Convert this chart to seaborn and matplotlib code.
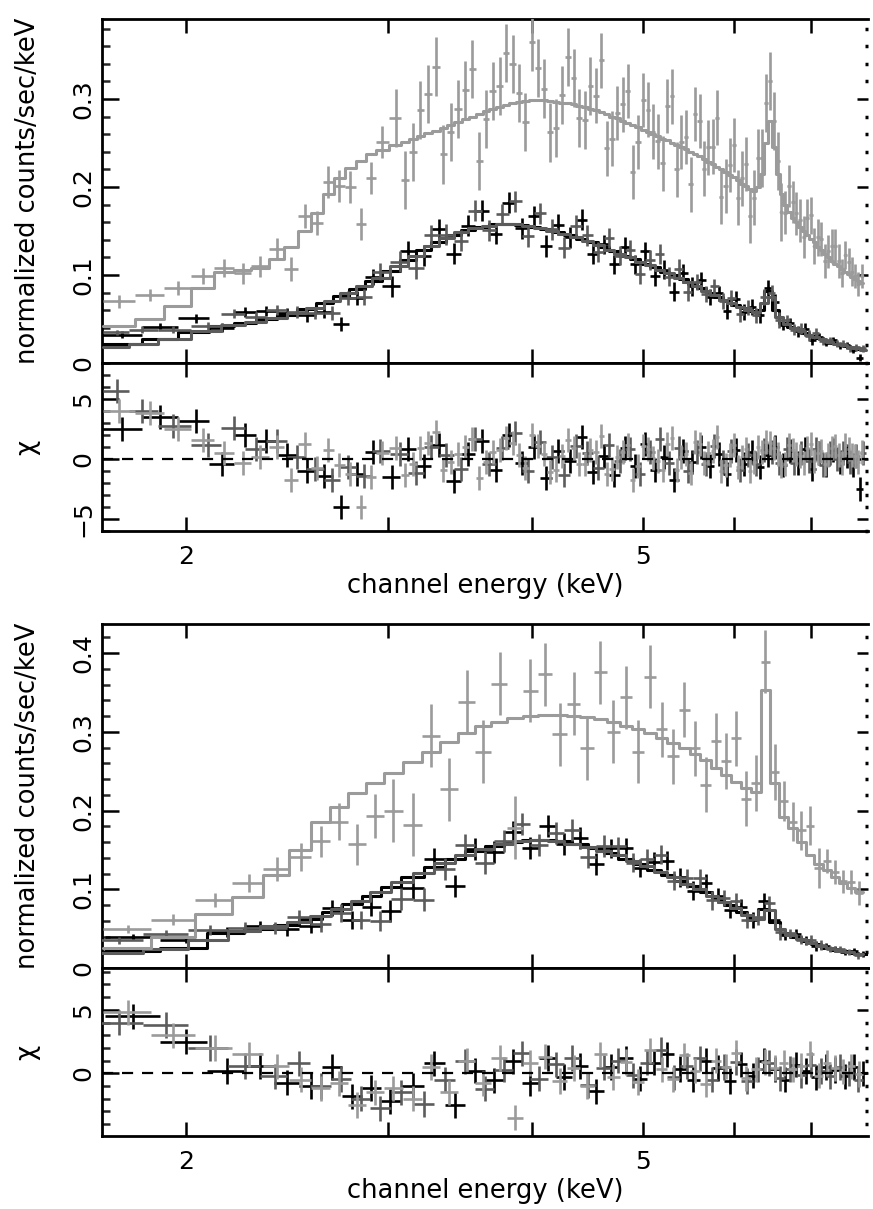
import numpy as np
import pandas as pd
import matplotlib
matplotlib.use("Agg")
import matplotlib.pyplot as plt
import seaborn as sns
from matplotlib.ticker import MultipleLocator, FixedLocator, NullLocator, FixedFormatter, FuncFormatter

sns.set_theme(style="ticks")
plt.rcParams['font.family'] = ['DejaVu Sans']

# ---------------- upper figure: light gray spectrum ----------------
e_a_lg = [1.75, 1.86, 1.97, 2.07, 2.16, 2.24, 2.32, 2.40, 2.47, 2.54, 2.60, 2.66, 2.72, 2.78, 2.84, 2.90, 2.96,
          3.05, 3.10, 3.15, 3.20, 3.25, 3.30, 3.35, 3.40, 3.45, 3.50, 3.55, 3.60, 3.65, 3.70, 3.75, 3.80, 3.85, 3.90, 3.95,
          4.00, 4.05, 4.10, 4.15, 4.20, 4.25, 4.30, 4.35, 4.40, 4.45, 4.50, 4.55, 4.60, 4.65, 4.70, 4.75, 4.80, 4.85, 4.90, 4.95,
          5.00, 5.05, 5.10, 5.15, 5.20, 5.25, 5.30, 5.35, 5.40, 5.45, 5.50, 5.55, 5.60, 5.65, 5.70, 5.75, 5.80, 5.85, 5.90, 5.95,
          6.00, 6.05, 6.10, 6.15, 6.20, 6.25, 6.30, 6.35, 6.40, 6.45, 6.50, 6.55, 6.60, 6.65, 6.70, 6.75, 6.80, 6.85, 6.90, 6.95,
          7.00, 7.05, 7.10, 7.15, 7.20, 7.25, 7.30, 7.35, 7.40, 7.45, 7.50, 7.55, 7.60, 7.65, 7.70, 7.75]
y_a_lg = [0.070, 0.077, 0.085, 0.099, 0.108, 0.102, 0.110, 0.130, 0.107, 0.167, 0.159, 0.206, 0.201, 0.200, 0.158, 0.210, 0.251,
          0.278, 0.208, 0.240, 0.288, 0.306, 0.337, 0.237, 0.263, 0.289, 0.310, 0.334, 0.230, 0.277, 0.309, 0.315, 0.352, 0.340, 0.307, 0.274,
          0.365, 0.335, 0.312, 0.262, 0.267, 0.305, 0.348, 0.324, 0.279, 0.276, 0.315, 0.304, 0.344, 0.244, 0.255, 0.284, 0.294, 0.309, 0.217, 0.251,
          0.299, 0.288, 0.263, 0.252, 0.227, 0.292, 0.303, 0.220, 0.251, 0.257, 0.203, 0.283, 0.275, 0.221, 0.245, 0.246, 0.279, 0.189, 0.201, 0.225,
          0.248, 0.188, 0.210, 0.226, 0.167, 0.188, 0.233, 0.233, 0.296, 0.320, 0.275, 0.230, 0.172, 0.171, 0.201, 0.183, 0.170, 0.162, 0.143, 0.165,
          0.168, 0.133, 0.143, 0.141, 0.116, 0.127, 0.133, 0.133, 0.116, 0.102, 0.123, 0.115, 0.104, 0.099, 0.090, 0.099]
s_a_lg = [0.007, 0.007, 0.008, 0.009, 0.010, 0.012, 0.012, 0.012, 0.014, 0.014, 0.014, 0.018, 0.018, 0.018, 0.018, 0.018, 0.018,
          0.033, 0.033, 0.033, 0.033, 0.033, 0.033, 0.033, 0.033, 0.033, 0.033, 0.033, 0.033, 0.033, 0.033, 0.033, 0.033, 0.033, 0.033, 0.033,
          0.033, 0.033, 0.033, 0.033, 0.033, 0.033, 0.033, 0.033, 0.033, 0.033, 0.033, 0.031, 0.031, 0.031, 0.031, 0.031, 0.031, 0.031, 0.031, 0.031,
          0.031, 0.031, 0.031, 0.031, 0.031, 0.031, 0.031, 0.031, 0.031, 0.031, 0.031, 0.031, 0.031, 0.031, 0.031, 0.031, 0.031, 0.031, 0.031, 0.031,
          0.031, 0.031, 0.031, 0.031, 0.031, 0.031, 0.033, 0.033, 0.033, 0.033, 0.033, 0.033, 0.033, 0.024, 0.024, 0.024, 0.024, 0.024, 0.024, 0.021,
          0.021, 0.021, 0.021, 0.019, 0.019, 0.019, 0.019, 0.019, 0.019, 0.016, 0.016, 0.016, 0.016, 0.014, 0.014, 0.014]
m_a_lg = [0.042, 0.050, 0.065, 0.085, 0.103, 0.106, 0.108, 0.118, 0.132, 0.150, 0.170, 0.192, 0.210, 0.222, 0.230, 0.237, 0.242,
          0.248, 0.251, 0.255, 0.258, 0.261, 0.264, 0.267, 0.270, 0.274, 0.277, 0.280, 0.283, 0.286, 0.289, 0.291, 0.293, 0.295, 0.297, 0.298,
          0.299, 0.299, 0.299, 0.298, 0.297, 0.296, 0.295, 0.294, 0.292, 0.291, 0.289, 0.287, 0.285, 0.283, 0.280, 0.278, 0.275, 0.273, 0.270, 0.268,
          0.265, 0.263, 0.260, 0.258, 0.255, 0.253, 0.250, 0.248, 0.245, 0.243, 0.240, 0.238, 0.235, 0.232, 0.229, 0.226, 0.223, 0.220, 0.217, 0.214,
          0.211, 0.208, 0.204, 0.201, 0.198, 0.196, 0.200, 0.215, 0.250, 0.275, 0.245, 0.215, 0.192, 0.180, 0.172, 0.165, 0.160, 0.155, 0.150, 0.145,
          0.141, 0.137, 0.132, 0.128, 0.124, 0.120, 0.116, 0.113, 0.110, 0.107, 0.104, 0.101, 0.098, 0.096, 0.093, 0.091]

# ---------------- upper figure: black spectrum ----------------
e_a_bk = [1.76, 1.90, 2.04, 2.15, 2.25, 2.35, 2.45, 2.55, 2.64, 2.73, 2.82, 2.91,
          3.02, 3.12, 3.22, 3.32, 3.42, 3.52, 3.62, 3.72, 3.82, 3.92, 4.02, 4.12, 4.22, 4.32, 4.42, 4.52, 4.62,
          4.72, 4.82, 4.92, 5.02, 5.12, 5.22, 5.32, 5.42, 5.52, 5.62, 5.72, 5.82, 5.92, 6.02, 6.12, 6.22, 6.32,
          6.42, 6.52, 6.62, 6.72, 6.82, 6.92, 7.02, 7.12, 7.22, 7.32, 7.42, 7.52, 7.62, 7.72]
y_a_bk = [0.032, 0.041, 0.051, 0.040, 0.058, 0.059, 0.057, 0.054, 0.058, 0.044, 0.074, 0.098,
          0.087, 0.127, 0.122, 0.152, 0.124, 0.156, 0.173, 0.147, 0.182, 0.153,
          0.167, 0.133, 0.157, 0.143, 0.163, 0.124, 0.135, 0.112, 0.132, 0.112,
          0.127, 0.099, 0.106, 0.081, 0.102, 0.087, 0.094, 0.075, 0.079, 0.059,
          0.073, 0.058, 0.064, 0.054, 0.085, 0.069, 0.043, 0.045, 0.036, 0.039,
          0.026, 0.030, 0.023, 0.026, 0.020, 0.020, 0.015, 0.006]
s_a_bk = [0.004, 0.004, 0.005, 0.005, 0.006, 0.006, 0.006, 0.007, 0.007, 0.008, 0.008, 0.009,
          0.012, 0.012, 0.012, 0.012, 0.012, 0.012, 0.012, 0.012, 0.012, 0.012,
          0.012, 0.012, 0.012, 0.012, 0.012, 0.012, 0.011, 0.011, 0.011, 0.011,
          0.011, 0.011, 0.011, 0.011, 0.011, 0.011, 0.009, 0.009, 0.009, 0.009,
          0.009, 0.009, 0.009, 0.009, 0.009, 0.009, 0.006, 0.006, 0.006, 0.006,
          0.006, 0.004, 0.004, 0.004, 0.004, 0.004, 0.004, 0.004]
m_a_bk = [0.022, 0.027, 0.035, 0.042, 0.046, 0.050, 0.055, 0.061, 0.068, 0.076, 0.084, 0.093,
          0.105, 0.117, 0.129, 0.138, 0.146, 0.151, 0.155, 0.158, 0.158, 0.157,
          0.155, 0.152, 0.149, 0.145, 0.141, 0.137, 0.132, 0.127, 0.122, 0.118,
          0.113, 0.109, 0.104, 0.100, 0.095, 0.090, 0.085, 0.080, 0.075, 0.070,
          0.066, 0.062, 0.059, 0.060, 0.082, 0.060, 0.046, 0.041, 0.038, 0.034,
          0.031, 0.028, 0.025, 0.023, 0.021, 0.019, 0.017, 0.016]

# ---------------- upper figure: dark gray spectrum ----------------
e_a_dg = [1.74, 1.83, 1.95, 2.09, 2.20, 2.30, 2.40, 2.50, 2.59, 2.68, 2.77, 2.86, 2.95,
          3.07, 3.17, 3.27, 3.37, 3.47, 3.57, 3.67, 3.77, 3.87, 3.97, 4.07, 4.17, 4.27, 4.37, 4.47, 4.57,
          4.67, 4.77, 4.87, 4.97, 5.07, 5.17, 5.27, 5.37, 5.47, 5.57, 5.67, 5.77, 5.87, 5.97, 6.07, 6.17,
          6.27, 6.37, 6.47, 6.57, 6.67, 6.77, 6.87, 6.97, 7.07, 7.17, 7.27, 7.37, 7.47, 7.57, 7.67, 7.77]
y_a_dg = [0.035, 0.038, 0.038, 0.042, 0.056, 0.052, 0.060, 0.058, 0.057, 0.057, 0.074, 0.075, 0.104,
          0.115, 0.108, 0.145, 0.146, 0.139, 0.173, 0.151, 0.169, 0.184, 0.144,
          0.170, 0.152, 0.131, 0.156, 0.145, 0.126, 0.142, 0.122, 0.129, 0.101,
          0.117, 0.124, 0.098, 0.107, 0.081, 0.092, 0.078, 0.087, 0.070, 0.074,
          0.056, 0.063, 0.054, 0.075, 0.080, 0.049, 0.049, 0.038, 0.039, 0.031,
          0.034, 0.025, 0.026, 0.022, 0.022, 0.017, 0.018, 0.017]
s_a_dg = [0.003, 0.004, 0.004, 0.005, 0.005, 0.006, 0.006, 0.007, 0.007, 0.008, 0.008, 0.009, 0.010,
          0.012, 0.012, 0.012, 0.012, 0.012, 0.012, 0.012, 0.012, 0.012, 0.012,
          0.012, 0.012, 0.012, 0.012, 0.012, 0.011, 0.011, 0.011, 0.011, 0.011,
          0.011, 0.011, 0.011, 0.011, 0.011, 0.009, 0.009, 0.009, 0.009, 0.009,
          0.009, 0.009, 0.009, 0.009, 0.009, 0.009, 0.006, 0.006, 0.006, 0.006,
          0.006, 0.004, 0.004, 0.004, 0.004, 0.004, 0.004, 0.004]
m_a_dg = [0.018, 0.022, 0.027, 0.036, 0.043, 0.047, 0.051, 0.057, 0.063, 0.071, 0.079, 0.088, 0.097,
          0.110, 0.122, 0.133, 0.142, 0.149, 0.153, 0.156, 0.158, 0.158, 0.156,
          0.153, 0.150, 0.147, 0.143, 0.139, 0.134, 0.129, 0.124, 0.120, 0.115,
          0.111, 0.106, 0.102, 0.097, 0.092, 0.087, 0.082, 0.077, 0.072, 0.068,
          0.064, 0.060, 0.058, 0.068, 0.075, 0.052, 0.044, 0.040, 0.036, 0.032,
          0.029, 0.027, 0.024, 0.022, 0.020, 0.018, 0.017, 0.015]

# ---------------- lower figure: light gray spectrum ----------------
e_b_lg = [1.78, 1.95, 2.12, 2.27, 2.40, 2.52, 2.62, 2.72, 2.82, 2.92,
          3.03, 3.15, 3.27, 3.39, 3.51, 3.63, 3.75, 3.87, 3.99, 4.11, 4.23, 4.35, 4.47, 4.59, 4.71, 4.83,
          4.95, 5.07, 5.19, 5.31, 5.43, 5.55, 5.67, 5.79, 5.91, 6.03, 6.15, 6.27, 6.39, 6.51, 6.63, 6.75,
          6.87, 6.99, 7.11, 7.23, 7.35, 7.47, 7.59, 7.71]
y_b_lg = [0.049, 0.061, 0.086, 0.108, 0.126, 0.141, 0.161, 0.186, 0.157, 0.193,
          0.200, 0.182, 0.295, 0.227, 0.338, 0.275, 0.361, 0.178, 0.352, 0.373,
          0.297, 0.336, 0.279, 0.376, 0.300, 0.344, 0.275, 0.370, 0.303, 0.269,
          0.328, 0.279, 0.233, 0.289, 0.263, 0.292, 0.215, 0.235, 0.389, 0.249,
          0.212, 0.186, 0.175, 0.181, 0.127, 0.136, 0.122, 0.110, 0.109, 0.095]
s_b_lg = [0.005, 0.007, 0.009, 0.012, 0.015, 0.018, 0.020, 0.024, 0.026, 0.028,
          0.040, 0.040, 0.040, 0.040, 0.040, 0.040, 0.040, 0.040, 0.040, 0.040,
          0.040, 0.040, 0.040, 0.040, 0.040, 0.040, 0.040, 0.040, 0.035, 0.035,
          0.035, 0.035, 0.035, 0.035, 0.035, 0.035, 0.035, 0.035, 0.040, 0.035,
          0.025, 0.025, 0.025, 0.025, 0.025, 0.015, 0.015, 0.015, 0.015, 0.015]
m_b_lg = [0.025, 0.040, 0.068, 0.090, 0.118, 0.150, 0.185, 0.205, 0.222, 0.235,
          0.248, 0.262, 0.275, 0.287, 0.298, 0.307, 0.313, 0.318, 0.320, 0.321,
          0.321, 0.320, 0.319, 0.316, 0.312, 0.308, 0.303, 0.298, 0.292, 0.286,
          0.279, 0.272, 0.264, 0.254, 0.245, 0.236, 0.229, 0.224, 0.353, 0.235,
          0.192, 0.178, 0.160, 0.143, 0.132, 0.124, 0.116, 0.108, 0.101, 0.096]

# ---------------- lower figure: black spectrum ----------------
e_b_bk = [1.80, 2.00, 2.17, 2.32, 2.45, 2.57, 2.68, 2.79, 2.90,
          3.01, 3.15, 3.29, 3.43, 3.57, 3.71, 3.85, 3.99, 4.13, 4.27, 4.41, 4.55, 4.69, 4.83, 4.97, 5.11,
          5.25, 5.39, 5.53, 5.67, 5.81, 5.95, 6.09, 6.23, 6.37, 6.51, 6.65, 6.79, 6.93, 7.07, 7.21, 7.35,
          7.49, 7.63, 7.77]
y_b_bk = [0.039, 0.036, 0.046, 0.053, 0.049, 0.053, 0.076, 0.061, 0.078,
          0.072, 0.102, 0.139, 0.104, 0.151, 0.147, 0.173, 0.152, 0.180, 0.157,
          0.165, 0.132, 0.152, 0.153, 0.127, 0.135, 0.136, 0.115, 0.098, 0.108,
          0.092, 0.074, 0.078, 0.061, 0.085, 0.061, 0.042, 0.043, 0.035, 0.028,
          0.028, 0.024, 0.020, 0.021, 0.018]
s_b_bk = [0.004, 0.004, 0.006, 0.007, 0.008, 0.009, 0.010, 0.011, 0.012,
          0.014, 0.014, 0.014, 0.014, 0.014, 0.014, 0.014, 0.014, 0.014, 0.014,
          0.014, 0.014, 0.012, 0.012, 0.012, 0.012, 0.012, 0.012, 0.012, 0.012,
          0.010, 0.010, 0.010, 0.010, 0.010, 0.010, 0.006, 0.006, 0.006, 0.006,
          0.004, 0.004, 0.004, 0.004, 0.004]
m_b_bk = [0.021, 0.026, 0.045, 0.049, 0.055, 0.062, 0.071, 0.081, 0.092,
          0.103, 0.116, 0.128, 0.139, 0.148, 0.155, 0.160, 0.163, 0.163, 0.161,
          0.157, 0.152, 0.146, 0.139, 0.132, 0.125, 0.118, 0.111, 0.104, 0.096,
          0.088, 0.080, 0.071, 0.063, 0.075, 0.058, 0.045, 0.039, 0.034, 0.030,
          0.026, 0.023, 0.021, 0.019, 0.018]

# ---------------- lower figure: dark gray spectrum ----------------
e_b_dg = [1.75, 1.92, 2.10, 2.25, 2.39, 2.51, 2.62, 2.73, 2.84, 2.95,
          3.08, 3.22, 3.36, 3.50, 3.64, 3.78, 3.92, 4.06, 4.20, 4.34, 4.48, 4.62, 4.76, 4.90, 5.04, 5.18,
          5.32, 5.46, 5.60, 5.74, 5.88, 6.02, 6.16, 6.30, 6.44, 6.58, 6.72, 6.86, 7.00, 7.14, 7.28, 7.42,
          7.56, 7.70]
y_b_dg = [0.035, 0.043, 0.048, 0.051, 0.051, 0.065, 0.056, 0.070, 0.061, 0.060,
          0.088, 0.087, 0.126, 0.156, 0.134, 0.161, 0.183, 0.156, 0.171, 0.175, 0.141, 0.155,
          0.155, 0.134, 0.139, 0.144, 0.111, 0.114, 0.114, 0.086,
          0.089, 0.085, 0.061, 0.065, 0.082, 0.046,
          0.044, 0.036, 0.036, 0.029,
          0.024, 0.024, 0.020, 0.016]
s_b_dg = [0.004, 0.005, 0.006, 0.007, 0.008, 0.009, 0.010, 0.011, 0.012, 0.013,
          0.014, 0.014, 0.014, 0.014, 0.014, 0.014, 0.014, 0.014, 0.014, 0.014, 0.014, 0.014,
          0.012, 0.012, 0.012, 0.012, 0.012, 0.012, 0.012, 0.012,
          0.010, 0.010, 0.010, 0.010, 0.010, 0.010,
          0.006, 0.006, 0.006, 0.006,
          0.004, 0.004, 0.004, 0.004]
m_b_dg = [0.019, 0.024, 0.036, 0.047, 0.053, 0.058, 0.066, 0.075, 0.085, 0.096,
          0.109, 0.121, 0.133, 0.143, 0.151, 0.157, 0.161, 0.162, 0.161, 0.158, 0.154, 0.149,
          0.143, 0.136, 0.129, 0.122, 0.115, 0.107, 0.100, 0.092,
          0.084, 0.076, 0.067, 0.062, 0.074, 0.050,
          0.042, 0.037, 0.032, 0.028,
          0.025, 0.022, 0.020, 0.018]

x_ticks = [2, 3, 4, 5, 6, 7]
x_tick_labels = ['2', '', '', '5', '', '']
x_range = (1.69, 7.85)

C_LG = '#9b9b9b'
C_DG = '#5c5c5c'
C_BK = '#000000'

W, H = 873, 1209
fig = plt.figure(figsize=(W / 100, H / 100), dpi=100)
fig.patch.set_facecolor('white')


def px_axes(left, right, top, bottom):
    return fig.add_axes([left / W, 1 - bottom / H, (right - left) / W, (bottom - top) / H])


def bin_edges(c):
    c = np.asarray(c, float)
    mid = (c[1:] + c[:-1]) / 2
    lo = np.concatenate([[c[0] - (c[1] - c[0]) / 2], mid])
    hi = np.concatenate([mid, [c[-1] + (c[-1] - c[-2]) / 2]])
    return lo, hi


def draw_series(ax_m, ax_r, e, y, s, m, color, z):
    e = np.asarray(e, float); y = np.asarray(y, float)
    s = np.asarray(s, float); m = np.asarray(m, float)
    lo, hi = bin_edges(e)
    ax_m.errorbar(e, y, xerr=[e - lo, hi - e], yerr=s, fmt='none', ecolor=color,
                  elinewidth=1.9, capsize=0, zorder=z)
    sns.scatterplot(x=e, y=y, ax=ax_m, color=color, s=7, linewidth=0, zorder=z + 0.1)
    xs = np.column_stack([lo, hi]).ravel()
    ys = np.repeat(m, 2)
    step = pd.DataFrame({'E': xs, 'model': ys})
    sns.lineplot(data=step, x='E', y='model', ax=ax_m, sort=False, estimator=None,
                 color=color, lw=2.2, zorder=z + 0.2)
    chi = (y - m) / s
    ax_r.errorbar(e, chi, xerr=[e - lo, hi - e], yerr=np.ones_like(chi), fmt='none',
                  ecolor=color, elinewidth=1.9, capsize=0, zorder=z)


num_fmt = FuncFormatter(lambda v, p: f'{v:g}'.replace('-', '\u2212'))


def style_axes(ax, ylim, major, minor, yticks=None, xlabels=False):
    ax.set_xscale('log')
    ax.set_xlim(*x_range)
    ax.set_ylim(*ylim)
    ax.set_facecolor('white')
    ax.xaxis.set_major_locator(FixedLocator(x_ticks))
    ax.xaxis.set_minor_locator(NullLocator())
    if xlabels:
        ax.xaxis.set_major_formatter(FixedFormatter(x_tick_labels))
    else:
        ax.xaxis.set_major_formatter(FixedFormatter([''] * len(x_ticks)))
    if yticks is not None:
        ax.yaxis.set_major_locator(FixedLocator(yticks))
    else:
        ax.yaxis.set_major_locator(MultipleLocator(major))
    ax.yaxis.set_minor_locator(MultipleLocator(minor))
    ax.yaxis.set_major_formatter(num_fmt)
    for side in ['left', 'top', 'bottom']:
        ax.spines[side].set_linewidth(2.0)
        ax.spines[side].set_color('black')
    ax.spines['right'].set_visible(False)
    ax.tick_params(axis='x', which='major', direction='in', length=10, width=1.8,
                   top=True, bottom=True, labelsize=18, pad=10, colors='black')
    ax.tick_params(axis='y', which='major', direction='in', length=12, width=1.8,
                   left=True, right=False, labelsize=18, pad=5, labelrotation=90, colors='black')
    ax.tick_params(axis='y', which='minor', direction='in', length=6, width=1.8,
                   left=True, right=False)
    for lbl in ax.get_yticklabels():
        lbl.set_va('center')
    sec = ax.secondary_yaxis('right')
    for sp in sec.spines.values():
        sp.set_visible(False)
    if yticks is not None:
        sec.yaxis.set_major_locator(FixedLocator(yticks))
    else:
        sec.yaxis.set_major_locator(MultipleLocator(major))
    sec.yaxis.set_minor_locator(MultipleLocator(minor))
    sec.tick_params(axis='y', which='major', direction='in', length=8, width=1.8,
                    labelright=False, colors='black')
    sec.tick_params(axis='y', which='minor', direction='in', length=2.5, width=2.5,
                    colors='black')


panels = [
    dict(top=19, mid=363, bot=531, ylim_m=(0, 0.391), ylim_r=(-6.0, 8.0), yt_r=[-5, 0, 5],
         series=[(e_a_bk, y_a_bk, s_a_bk, m_a_bk, C_BK, 3),
                 (e_a_dg, y_a_dg, s_a_dg, m_a_dg, C_DG, 4),
                 (e_a_lg, y_a_lg, s_a_lg, m_a_lg, C_LG, 5)]),
    dict(top=624, mid=968, bot=1136, ylim_m=(0, 0.437), ylim_r=(-4.95, 8.3), yt_r=[0, 5],
         series=[(e_b_bk, y_b_bk, s_b_bk, m_b_bk, C_BK, 3),
                 (e_b_dg, y_b_dg, s_b_dg, m_b_dg, C_DG, 4),
                 (e_b_lg, y_b_lg, s_b_lg, m_b_lg, C_LG, 5)]),
]

for p in panels:
    ax_m = px_axes(102, 868, p['top'], p['mid'])
    ax_r = px_axes(102, 868, p['mid'], p['bot'])
    for (e, y, s, m, col, z) in p['series']:
        draw_series(ax_m, ax_r, e, y, s, m, col, z)
    ax_r.axhline(0, color='black', lw=1.6, ls=(0, (5, 4)), zorder=10)
    style_axes(ax_m, p['ylim_m'], 0.1, 0.02)
    style_axes(ax_r, p['ylim_r'], 5, 1, yticks=p['yt_r'], xlabels=True)
    ax_m.set_xlabel('')
    ax_m.set_ylabel('normalized counts/sec/keV', fontsize=18.5, color='black')
    ax_r.set_ylabel('χ', fontsize=19, color='black', rotation=90)
    ax_m.yaxis.set_label_coords(-0.080, 0.5)
    ax_r.yaxis.set_label_coords(-0.080, 0.5)
    ax_r.set_xlabel('channel energy (keV)', fontsize=18.5, color='black', labelpad=3)

fig.savefig('out.png', dpi=100, facecolor='white')
